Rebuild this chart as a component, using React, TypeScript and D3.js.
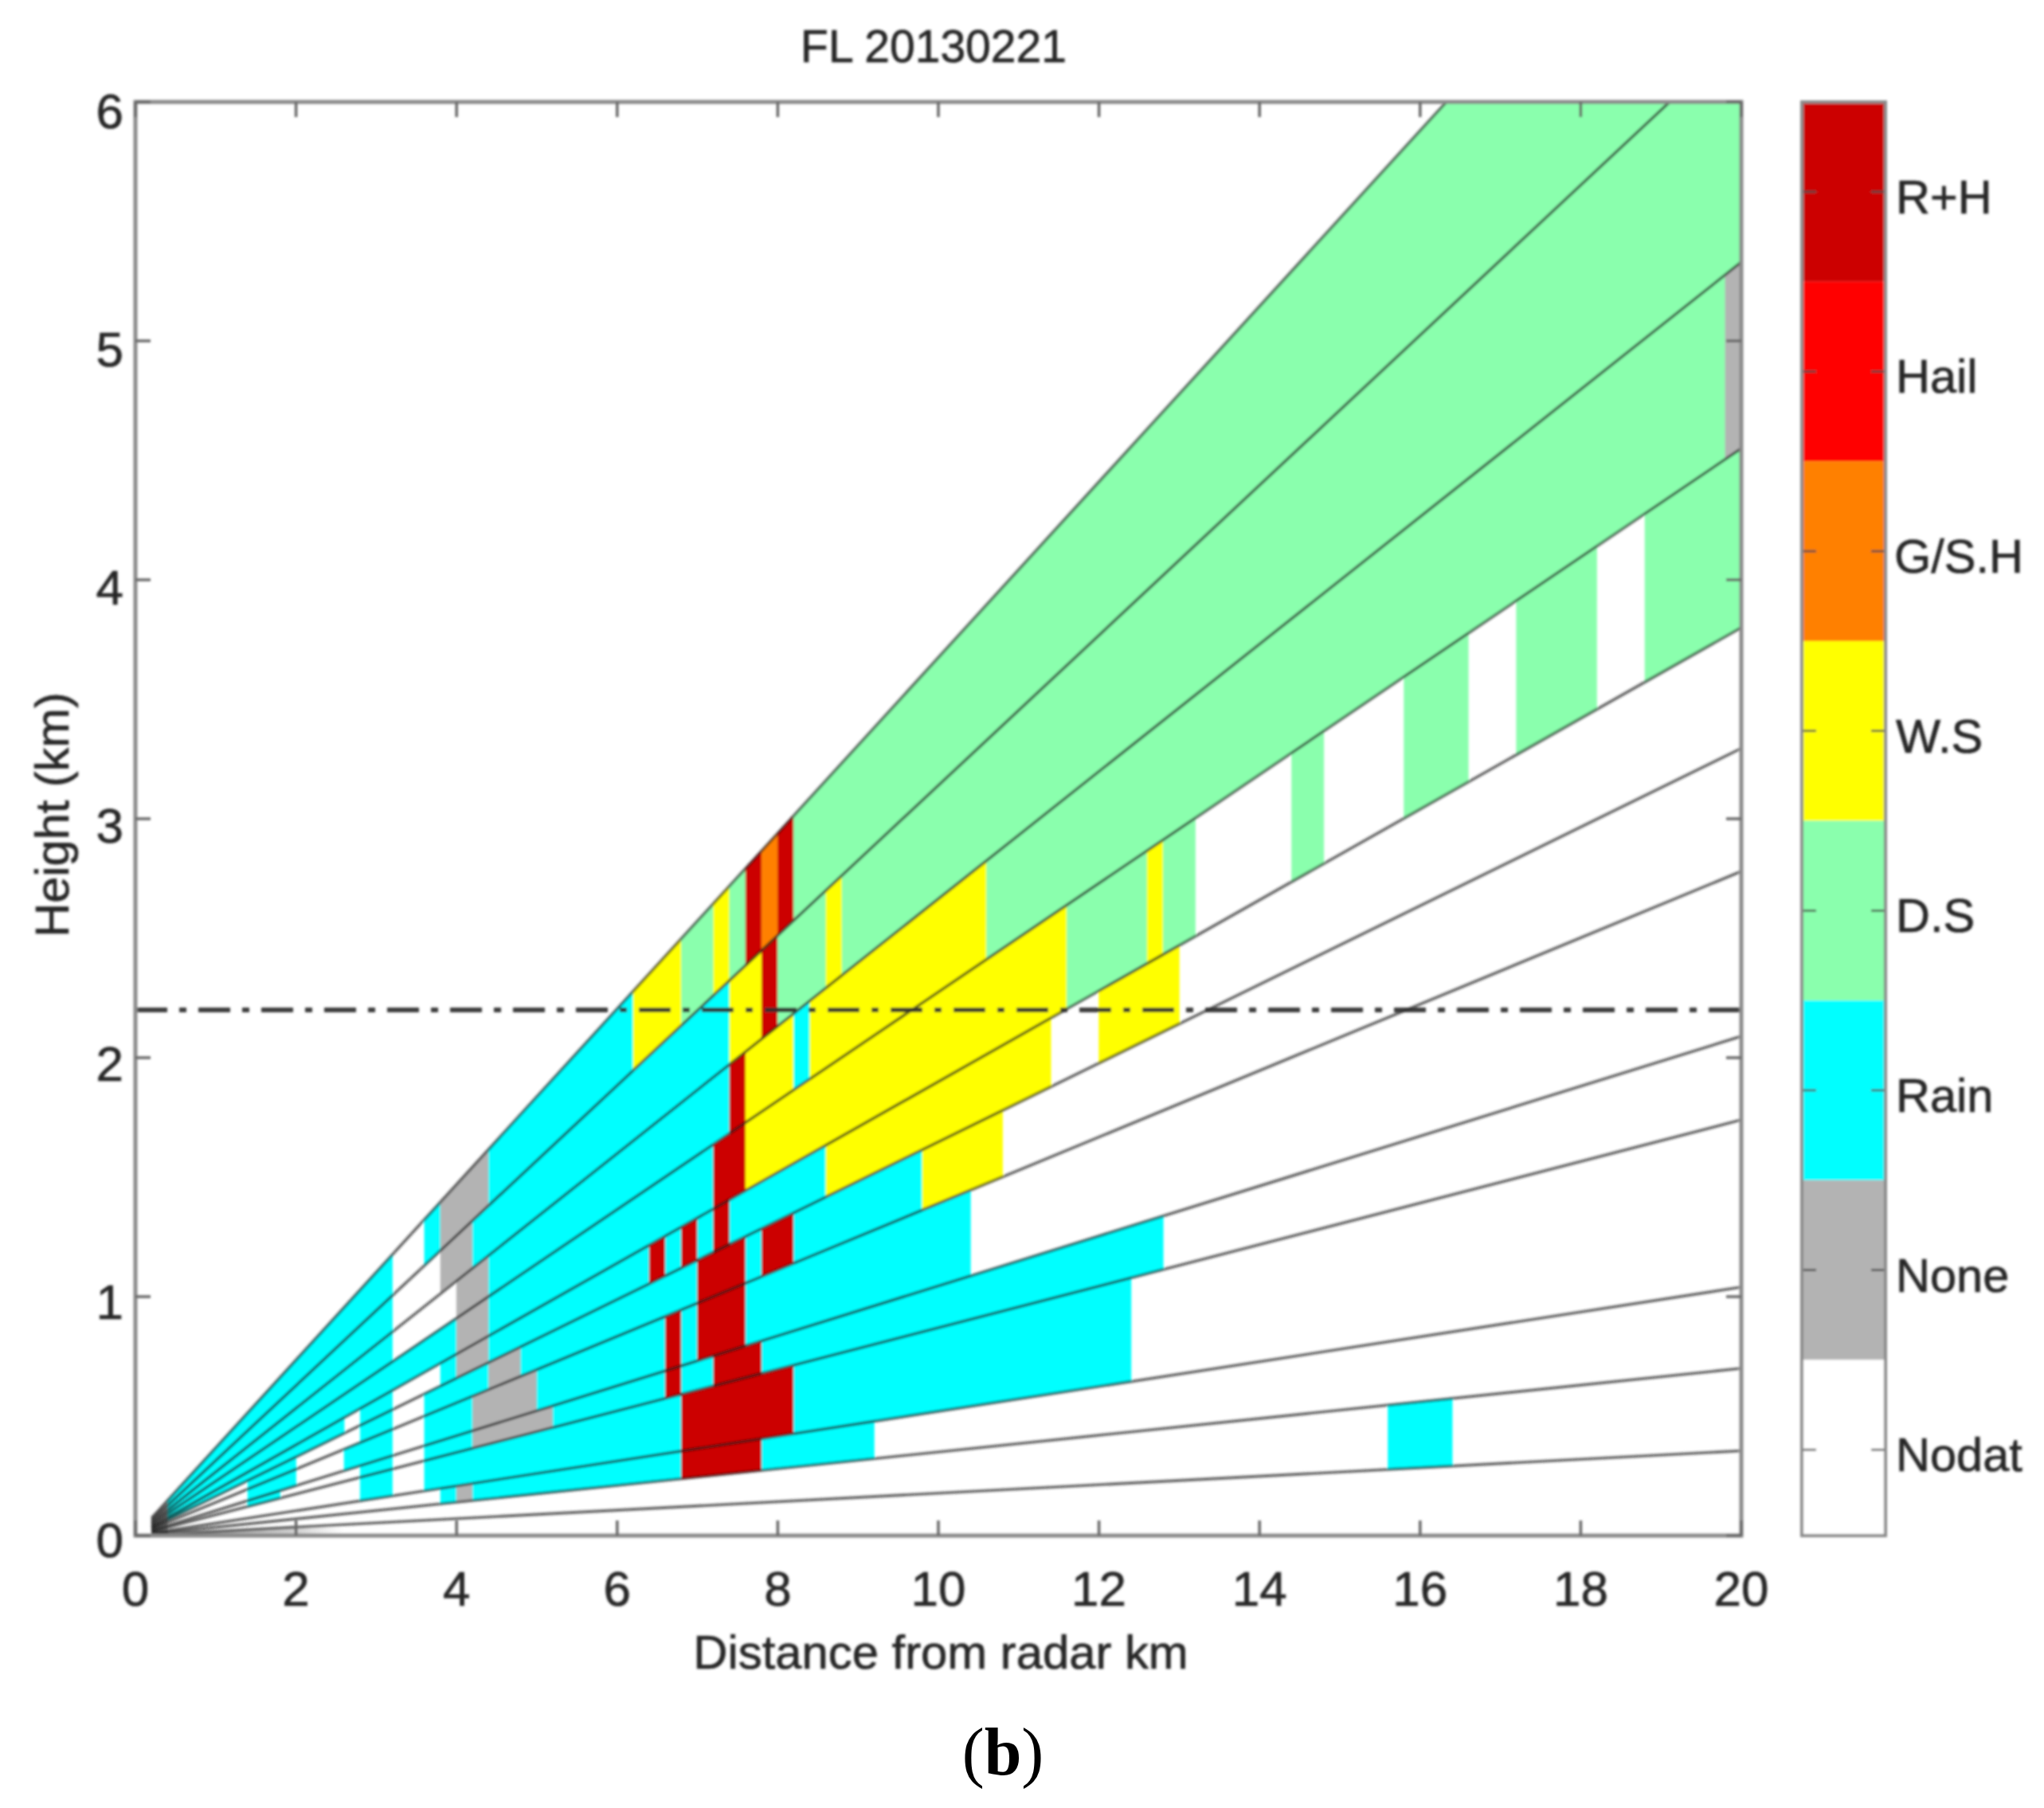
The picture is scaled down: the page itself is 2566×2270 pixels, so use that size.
import React from "react";
import * as d3 from "d3";

const title = "FL 20130221";
const xLabel = "Distance from radar km";
const yLabel = "Height (km)";
const xTicks = [0, 2, 4, 6, 8, 10, 12, 14, 16, 18, 20];
const yTicks = [0, 1, 2, 3, 4, 5, 6];
const freezingLevel = 2.2;

// Classes, drawn top to bottom in the colour bar
const classNames = ["R+H", "Hail", "G/S.H", "W.S", "D.S", "Rain", "None", "Nodat"];
const classColors = ["#cc0000", "#ff0000", "#ff8000", "#ffff00", "#8affad", "#00ffff", "#b3b3b3", "#ffffff"];

// Beam heights (km) at 20 km range, lowest to highest; beams start near the radar
const beamStart = 0.2;
const beamTopAt20 = [0.355, 0.7, 1.04, 1.74, 2.09, 2.78, 3.295, 3.8, 4.55, 5.33, 6.28, 7.35];

type Run = [number, number, string];
const groundRuns: Run[] = [[0.2, 2.6, "None"]];
const band0: Run[] = [[0.2, 0.4, "None"], [15.6, 16.4, "Rain"]];
const band1: Run[] = [[0.2, 0.4, "None"], [3.8, 4.0, "Rain"], [4.0, 4.2, "None"], [4.2, 6.8, "Rain"], [6.8, 7.8, "R+H"], [7.8, 9.2, "Rain"]];
const band2: Run[] = [[0.2, 0.4, "None"], [2.8, 3.2, "Rain"], [3.6, 6.8, "Rain"], [6.8, 8.2, "R+H"], [8.2, 12.4, "Rain"]];
const band3: Run[] = [[0.2, 0.4, "None"], [1.4, 1.8, "Rain"], [2.8, 3.2, "Rain"], [3.6, 4.2, "Rain"], [4.2, 5.2, "None"], [5.2, 6.6, "Rain"], [6.6, 6.8, "R+H"], [6.8, 7.2, "Rain"], [7.2, 7.8, "R+H"], [7.8, 12.8, "Rain"]];
const band4: Run[] = [[0.2, 0.4, "None"], [1.4, 2.0, "Rain"], [2.6, 3.2, "Rain"], [3.6, 4.2, "Rain"], [4.2, 5.0, "None"], [5.0, 6.6, "Rain"], [6.6, 6.8, "R+H"], [6.8, 7.0, "Rain"], [7.0, 7.6, "R+H"], [7.6, 10.4, "Rain"]];
const band5: Run[] = [[0.2, 0.4, "None"], [1.4, 2.0, "Rain"], [2.8, 3.2, "Rain"], [3.6, 4.4, "Rain"], [4.4, 4.8, "None"], [4.8, 7.0, "Rain"], [7.0, 7.6, "R+H"], [7.6, 7.8, "Rain"], [7.8, 8.2, "R+H"], [8.2, 9.8, "Rain"], [9.8, 10.8, "W.S"]];
const band6: Run[] = [[0.2, 0.4, "None"], [0.4, 2.6, "Rain"], [2.8, 3.2, "Rain"], [3.8, 4.0, "Rain"], [4.0, 4.4, "None"], [4.4, 6.4, "Rain"], [6.4, 6.6, "R+H"], [6.6, 6.8, "Rain"], [6.8, 7.0, "R+H"], [7.0, 7.2, "Rain"], [7.2, 7.4, "R+H"], [7.4, 8.6, "Rain"], [8.6, 11.4, "W.S"], [12.0, 13.0, "W.S"]];
const band7: Run[] = [[0.2, 0.4, "None"], [0.4, 4.0, "Rain"], [4.0, 4.4, "None"], [4.4, 7.2, "Rain"], [7.2, 7.6, "R+H"], [7.6, 11.6, "W.S"], [11.6, 12.6, "D.S"], [12.6, 12.8, "W.S"], [12.8, 13.2, "D.S"], [14.4, 14.8, "D.S"], [15.8, 16.6, "D.S"], [17.2, 18.2, "D.S"], [18.8, 20, "D.S"]];
const band8: Run[] = [[0.2, 0.4, "None"], [0.4, 3.2, "Rain"], [4.0, 4.4, "None"], [4.4, 7.4, "Rain"], [7.4, 7.6, "R+H"], [7.6, 8.2, "W.S"], [8.2, 8.4, "Rain"], [8.4, 10.6, "W.S"], [10.6, 19.8, "D.S"], [19.8, 20, "None"]];
const band9: Run[] = [[0.2, 0.4, "None"], [0.4, 3.2, "Rain"], [3.8, 4.2, "None"], [4.2, 7.4, "Rain"], [7.4, 7.8, "W.S"], [7.8, 8.0, "R+H"], [8.0, 8.6, "D.S"], [8.6, 8.8, "W.S"], [8.8, 20, "D.S"]];
const band10: Run[] = [[0.2, 0.4, "None"], [0.4, 3.2, "Rain"], [3.6, 3.8, "Rain"], [3.8, 4.4, "None"], [4.4, 6.2, "Rain"], [6.2, 6.8, "W.S"], [6.8, 7.2, "D.S"], [7.2, 7.4, "W.S"], [7.4, 7.6, "D.S"], [7.6, 7.8, "R+H"], [7.8, 8.0, "G/S.H"], [8.0, 8.2, "R+H"], [8.2, 20, "D.S"]];
const bandRuns = [band0, band1, band2, band3, band4, band5, band6, band7, band8, band9, band10];

const W = 2566;
const H = 2270;
const plot = { left: 170, right: 2186, top: 128, bottom: 1928 };
const bar = { left: 2262, right: 2367, top: 128, bottom: 1928, segmentsEnd: 1933 };
const SANS = "'Liberation Sans', Arial, sans-serif";
const INK = "#262626";
const FRAME = "#8a8a8a";

const x = d3.scaleLinear().domain([0, 20]).range([plot.left, plot.right]);
const y = d3.scaleLinear().domain([0, 6]).range([plot.bottom, plot.top]);
const yLabelY = d3.scaleLinear().domain([0, 6]).range([plot.bottom + 27, plot.top + 33]);
const colorOf = d3.scaleOrdinal<string, string>().domain(classNames).range(classColors);
const barBand = d3.scaleBand<string>().domain(classNames).range([bar.top, bar.segmentsEnd]);
const beamHeight = (top: number, r: number) => (top / 20) * r;
const path = d3.line<[number, number]>().x((d) => x(d[0])).y((d) => y(d[1]));

function cellPath(lower: number | null, upper: number, run: Run) {
  const lo = (r: number) => (lower === null ? 0 : beamHeight(lower, r));
  return (
    path([
      [run[0], lo(run[0])],
      [run[1], lo(run[1])],
      [run[1], beamHeight(upper, run[1])],
      [run[0], beamHeight(upper, run[0])],
    ]) + "Z"
  );
}

export default function App() {
  const gx0 = x(groundRuns[0][0]);
  const gx1 = x(groundRuns[0][1]);
  return (
    <svg
      width={W}
      height={H}
      viewBox={`0 0 ${W} ${H}`}
      style={{ position: "absolute", left: 0, top: 0, background: "#fff" }}
    >
      <defs>
        <clipPath id="plotClip">
          <rect x={plot.left} y={plot.top} width={plot.right - plot.left} height={plot.bottom - plot.top} />
        </clipPath>
        <linearGradient id="groundFade" gradientUnits="userSpaceOnUse" x1={gx0} x2={gx1} y1={0} y2={0}>
          <stop offset="0" stopColor="#555" stopOpacity={0.95} />
          <stop offset="0.35" stopColor="#888" stopOpacity={0.8} />
          <stop offset="0.75" stopColor="#aaa" stopOpacity={0.55} />
          <stop offset="1" stopColor="#bbb" stopOpacity={0} />
        </linearGradient>
        <filter id="soft" x="0" y="0" width={W} height={H} filterUnits="userSpaceOnUse" primitiveUnits="userSpaceOnUse">
          <feGaussianBlur stdDeviation="1.5" />
        </filter>
      </defs>
      <rect width={W} height={H} fill="#fff" />
      <g filter="url(#soft)">
        <g clipPath="url(#plotClip)">
          {groundRuns.map((run, i) => (
            <path key={`g${i}`} d={cellPath(null, beamTopAt20[0], run)} fill="url(#groundFade)" />
          ))}
          {bandRuns.map((runs, k) =>
            runs.map((run, i) => {
              const c = colorOf(run[2]);
              return (
                <path key={`${k}-${i}`} d={cellPath(beamTopAt20[k], beamTopAt20[k + 1], run)} fill={c} stroke={c} strokeWidth={0.6} />
              );
            })
          )}
          {beamTopAt20.map((top, i) => (
            <path
              key={`b${i}`}
              d={path([
                [beamStart, beamHeight(top, beamStart)],
                [20, beamHeight(top, 20)],
              ]) ?? ""}
              fill="none"
              stroke="rgb(25,25,25)"
              strokeOpacity={0.66}
              strokeWidth={3.6}
            />
          ))}
          <path
            d={path([[0, freezingLevel], [20, freezingLevel]]) ?? ""}
            fill="none"
            stroke="#2e2e2e"
            strokeOpacity={0.92}
            strokeWidth={6}
            strokeDasharray="40 15 9 15"
          />
        </g>

        {/* frame and ticks */}
        <rect x={plot.left} y={plot.top} width={plot.right - plot.left} height={plot.bottom - plot.top} fill="none" stroke={FRAME} strokeWidth={5} />
        {xTicks.map((t) => (
          <g key={`xt${t}`} stroke="#666" strokeWidth={3.5}>
            <line x1={x(t)} x2={x(t)} y1={plot.bottom} y2={plot.bottom - 19} />
            <line x1={x(t)} x2={x(t)} y1={plot.top} y2={plot.top + 19} />
          </g>
        ))}
        {yTicks.map((t) => (
          <g key={`yt${t}`} stroke="#666" strokeWidth={3.5}>
            <line x1={plot.left} x2={plot.left + 19} y1={y(t)} y2={y(t)} />
            <line x1={plot.right} x2={plot.right - 19} y1={y(t)} y2={y(t)} />
          </g>
        ))}
        <g fontFamily={SANS} fill={INK} stroke={INK} strokeWidth={0.7}>
          {xTicks.map((t) => (
            <text key={`xl${t}`} x={x(t)} y={2016} fontSize={62} textAnchor="middle">
              {t}
            </text>
          ))}
          {yTicks.map((t) => (
            <text key={`yl${t}`} x={155} y={yLabelY(t)} fontSize={62} textAnchor="end">
              {t}
            </text>
          ))}
          <text x={1172} y={78} fontSize={57} textAnchor="middle">
            {title}
          </text>
          <text x={1181} y={2095} fontSize={59.8} textAnchor="middle">
            {xLabel}
          </text>
          <text transform="translate(86,1023) rotate(-90)" fontSize={59.5} textAnchor="middle">
            {yLabel}
          </text>
        </g>

        {/* colour bar */}
        {classNames.map((name) => {
          const top = barBand(name) ?? 0;
          const h = Math.min(barBand.bandwidth(), bar.bottom - top);
          const mid = top + barBand.bandwidth() / 2;
          return (
            <g key={name}>
              <rect x={bar.left} y={top} width={bar.right - bar.left} height={h} fill={colorOf(name)} />
              <line x1={bar.left} x2={bar.left + 18} y1={mid} y2={mid} stroke="#444" strokeWidth={2.5} />
              <line x1={bar.right} x2={bar.right - 18} y1={mid} y2={mid} stroke="#444" strokeWidth={2.5} />
              <text x={name === "G/S.H" ? 2378 : 2380} y={mid + 27} fontFamily={SANS} fontSize={59.5} fill={INK} stroke={INK} strokeWidth={0.7}>
                {name}
              </text>
            </g>
          );
        })}
        <rect x={bar.left} y={bar.top} width={bar.right - bar.left} height={bar.bottom - bar.top} fill="none" stroke={FRAME} strokeWidth={4} />
      </g>

      <text x={1259} y={2228} fontFamily="'Liberation Serif', serif" fontSize={84} textAnchor="middle" fill="#000">
        (<tspan fontWeight="bold">b</tspan>)
      </text>
    </svg>
  );
}
